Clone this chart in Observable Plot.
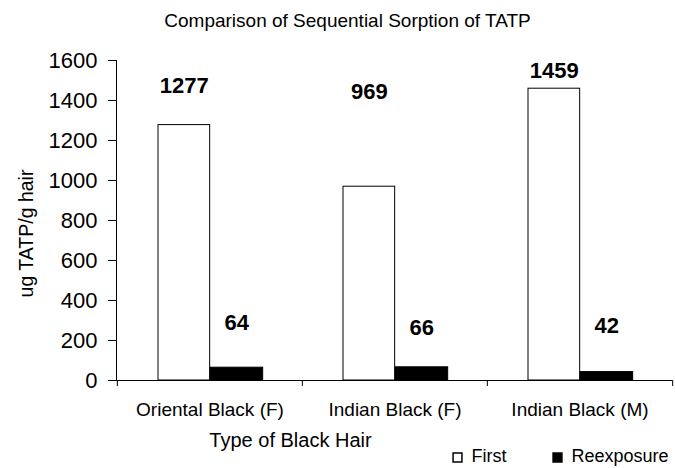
<!DOCTYPE html>
<html>
<head>
<meta charset="utf-8">
<script src="https://cdn.jsdelivr.net/npm/d3@7"></script>
<script src="https://cdn.jsdelivr.net/npm/@observablehq/plot@0.6"></script>
<style>
  html, body { margin: 0; padding: 0; background: #fff; }
  #chart svg { display: block; font-family: "Liberation Sans", Arial, Helvetica, sans-serif; }
</style>
</head>
<body>
<div id="chart"></div>
<script>
// Hair types tested
const categories = ["Oriental Black (F)", "Indian Black (F)", "Indian Black (M)"];
// Sorbed TATP, ug per g of hair
const firstExposure = [1277, 969, 1459];
const reexposure = [64, 66, 42];
// Heights (in ug/g) at which the value labels sit
const firstLabelAt = [1475, 1445, 1550];
const reexposureLabelAt = [290, 265, 275];
const yTicks = [0, 200, 400, 600, 800, 1000, 1200, 1400, 1600];
const seriesNames = ["First", "Reexposure"];

const W = 675, H = 468;
const mL = 116, mR = 3, mT = 60, mB = 88;
const band = (W - mL - mR) / categories.length;
const frameCx = mL + (W - mL - mR) / 2;
const frameCy = mT + (H - mT - mB) / 2;

const firstRows = categories.map((c, i) => ({category: c, value: firstExposure[i], labelAt: firstLabelAt[i]}));
const reRows = categories.map((c, i) => ({category: c, value: reexposure[i], labelAt: reexposureLabelAt[i]}));

const font = "Liberation Sans, Arial, Helvetica, sans-serif";
const bar1 = {left: 41, width: 52};
const bar2 = {left: 93, width: 53};
const legendY = 456;

const chart = Plot.plot({
  width: W,
  height: H,
  marginLeft: mL,
  marginRight: mR,
  marginTop: mT,
  marginBottom: mB,
  style: {fontFamily: font, color: "#000", background: "#fff"},
  x: {type: "band", domain: categories, padding: 0, label: null},
  y: {domain: [0, 1600], label: null},
  marks: [
    // bars
    Plot.barY(firstRows, {
      x: "category", y: "value", fill: "#fff", stroke: "#000", strokeWidth: 1,
      insetLeft: bar1.left, insetRight: band - bar1.left - bar1.width
    }),
    Plot.barY(reRows, {
      x: "category", y: "value", fill: "#000", stroke: "#000", strokeWidth: 1,
      insetLeft: bar2.left, insetRight: band - bar2.left - bar2.width
    }),
    // axis lines
    Plot.frame({anchor: "left", stroke: "#000"}),
    Plot.ruleY([0], {stroke: "#000", insetLeft: -4}),
    // y axis
    Plot.axisY({ticks: yTicks, tickFormat: d => String(d), tickSize: 8, tickPadding: 11, fontSize: 22, label: null, stroke: "#000"}),
    // x axis: labels centred, tick marks at category boundaries
    Plot.axisX({tickSize: 0, tickPadding: 22, fontSize: 19, label: null}),
    Plot.axisX({text: null, tickSize: 6, dx: -band / 2, label: null, stroke: "#000"}),
    Plot.axisX({ticks: [categories[categories.length - 1]], text: null, tickSize: 6, dx: band / 2, label: null, stroke: "#000"}),
    // value labels
    Plot.text(firstRows, {
      x: "category", y: "labelAt", text: d => String(d.value),
      dx: bar1.left + bar1.width / 2 - band / 2, fontSize: 22, fontWeight: "bold", fill: "#000"
    }),
    Plot.text(reRows, {
      x: "category", y: "labelAt", text: d => String(d.value),
      dx: bar2.left + bar2.width / 2 - band / 2, fontSize: 22, fontWeight: "bold", fill: "#000"
    }),
    // title
    Plot.text(["Comparison of Sequential Sorption of TATP"], {
      frameAnchor: "top", lineAnchor: "middle", textAnchor: "middle",
      dy: 20 - mT, dx: 347 - frameCx, fontSize: 19, fill: "#000"
    }),
    // y axis title
    Plot.text(["ug TATP/g hair"], {
      frameAnchor: "left", lineAnchor: "middle", textAnchor: "middle",
      dx: 26 - mL, dy: 233 - frameCy, rotate: -90, fontSize: 19.5, fill: "#000"
    }),
    // x axis title
    Plot.text(["Type of Black Hair"], {
      frameAnchor: "bottom", lineAnchor: "middle", textAnchor: "middle",
      dy: 440 - (H - mB), dx: 290 - frameCx, fontSize: 20, fill: "#000"
    }),
    // legend
    Plot.dot([seriesNames[0]], {frameAnchor: "bottom", dx: 457 - frameCx, dy: legendY + 1 - (H - mB), symbol: "square", r: 5, fill: "#fff", stroke: "#000"}),
    Plot.text([seriesNames[0]], {frameAnchor: "bottom", lineAnchor: "middle", dx: 471 - frameCx, dy: legendY - (H - mB), text: d => d, textAnchor: "start", fontSize: 18, fill: "#000"}),
    Plot.dot([seriesNames[1]], {frameAnchor: "bottom", dx: 557 - frameCx, dy: legendY + 1 - (H - mB), symbol: "square", r: 5, fill: "#000", stroke: "#000"}),
    Plot.text([seriesNames[1]], {frameAnchor: "bottom", lineAnchor: "middle", dx: 571 - frameCx, dy: legendY - (H - mB), text: d => d, textAnchor: "start", fontSize: 18, fill: "#000"})
  ]
});

document.getElementById("chart").appendChild(chart);
</script>
</body>
</html>
